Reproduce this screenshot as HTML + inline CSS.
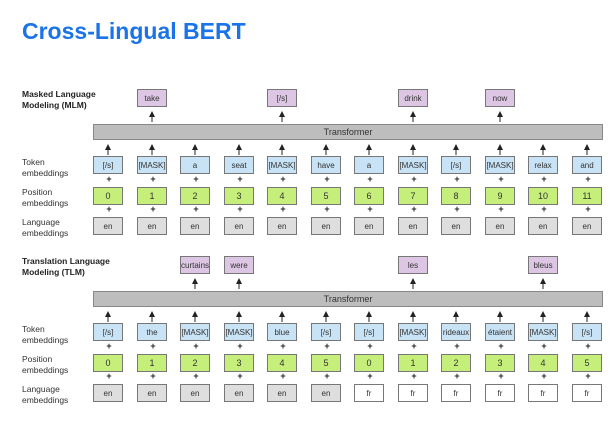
<!DOCTYPE html>
<html><head><style>
body{margin:0;width:616px;height:426px;background:#fff;position:relative;overflow:hidden;font-family:"Liberation Sans",sans-serif;}
.t{position:absolute;left:22px;top:18px;font-size:23px;font-weight:bold;color:#1a73e8;}
.b{position:absolute;width:28px;height:16px;border:1px solid #777;font-size:8px;color:#333;display:flex;align-items:center;justify-content:center;box-sizing:content-box;white-space:nowrap;overflow:hidden}
.o{background:#dcc6e3}.k{background:#c8e3f6}.p{background:#c6ee7a;font-size:9px}.l{background:#dedede}.f{background:#fff}
.bar{position:absolute;left:93px;width:508px;height:14px;background:#bdbdbd;border:1px solid #888;font-size:9px;color:#333;text-align:center;line-height:14px}
.lab{position:absolute;left:22px;font-size:8.5px;color:#333;line-height:11px}
.bl{font-weight:bold;color:#222}
.pl{position:absolute;font-size:9px;font-weight:bold;color:#222;width:10px;text-align:center}
</style></head><body>
<div class="t">Cross-Lingual BERT</div>
<svg width="616" height="426" style="position:absolute;left:0;top:0">
<defs><marker id="a" markerWidth="6" markerHeight="6" refX="3" refY="3" orient="auto"><path d="M0,0L6,3L0,6z" fill="#222"/></marker></defs>
<g id="arr" stroke="#222" stroke-width="1"></g>
</svg>
<div id="c"></div>
<script>
var cols=[108,152,195,239,282,326,369,413,456,500,543,587];
var h='';var svg='';
function box(x,y,cls,t){h+='<div class="b '+cls+'" style="left:'+(x-15)+'px;top:'+y+'px">'+t+'</div>';}
function arrow(x,y1,y2){svg+='<line x1="'+x+'" y1="'+y1+'" x2="'+x+'" y2="'+(y2+4)+'" marker-end="url(#a)"/>';}
function sec(off,outs,toks,pos,lang,bar){
 for(var i in outs){box(cols[i],89+off,'o',outs[i]);arrow(cols[i],122+off,110+off);}
 h+='<div class="bar" style="top:'+(124+off)+'px">Transformer</div>';
 for(var i=0;i<12;i++){var x=cols[i];
  arrow(x,155+off,143+off);
  box(x,156+off,'k',toks[i]);
  h+='<div class="pl" style="left:'+(x-4)+'px;top:'+(174+off)+'px">+</div>';
  box(x,187+off,'p',pos[i]);
  h+='<div class="pl" style="left:'+(x-4)+'px;top:'+(204+off)+'px">+</div>';
  box(x,217+off,lang[i]=='en'?'l':'f',lang[i]);
 }
 h+='<div class="lab" style="top:'+(157+off)+'px">Token<br>embeddings</div>';
 h+='<div class="lab" style="top:'+(187+off)+'px">Position<br>embeddings</div>';
 h+='<div class="lab" style="top:'+(217+off)+'px">Language<br>embeddings</div>';
}
sec(0,{1:'take',4:'[/s]',7:'drink',9:'now'},['[/s]','[MASK]','a','seat','[MASK]','have','a','[MASK]','[/s]','[MASK]','relax','and'],[0,1,2,3,4,5,6,7,8,9,10,11],Array(12).fill('en'));
sec(167,{2:'curtains',3:'were',7:'les',10:'bleus'},['[/s]','the','[MASK]','[MASK]','blue','[/s]','[/s]','[MASK]','rideaux','étaient','[MASK]','[/s]'],[0,1,2,3,4,5,0,1,2,3,4,5],['en','en','en','en','en','en','fr','fr','fr','fr','fr','fr']);
h+='<div class="lab bl" style="top:89px">Masked Language<br>Modeling (MLM)</div>';
h+='<div class="lab bl" style="top:256px">Translation Language<br>Modeling (TLM)</div>';
document.getElementById('c').innerHTML=h;
document.getElementById('arr').innerHTML=svg;
</script>
</body></html>
